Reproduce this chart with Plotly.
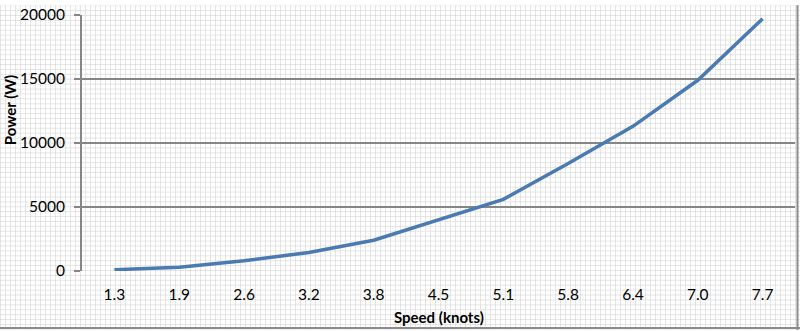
import base64
import plotly.graph_objects as go

speed = ["1.3", "1.9", "2.6", "3.2", "3.8", "4.5", "5.1", "5.8", "6.4", "7.0", "7.7"]
power = [100, 300, 800, 1450, 2400, 4000, 5600, 8400, 11300, 14900, 19700]
y_ticks = [0, 5000, 10000, 15000, 20000]
y_labels = ["0", "5000", "10000", "15000", "20000"]

W, H = 800, 331
ML, MR, MT, MB = 82, 5, 10, 60
PW, PH = W - ML - MR, H - MT - MB

# graph-paper background pattern
svg = f'''<svg xmlns="http://www.w3.org/2000/svg" width="{W}" height="{H}">
<defs><pattern id="p" width="5" height="5" patternUnits="userSpaceOnUse">
<path d="M5 0 L0 0 0 5" fill="none" stroke="#cdcdcd" stroke-width="1"/></pattern></defs>
<rect width="{W}" height="{H}" fill="#ffffff"/>
<rect width="{W}" height="{H}" fill="url(#p)"/></svg>'''
src = "data:image/svg+xml;base64," + base64.b64encode(svg.encode()).decode()

fig = go.Figure()
fig.add_trace(go.Scatter(x=speed, y=power, mode="lines",
                         line=dict(color="#4A7AB2", width=3.5)))

font = dict(family="Lato, Calibri, sans-serif", size=15.5, color="#000000")
tfont = dict(family="Lato, Calibri, sans-serif", size=15, color="#000000")

fig.update_layout(
    width=W, height=H,
    margin=dict(l=ML, r=MR, t=MT, b=MB),
    paper_bgcolor="#ffffff",
    plot_bgcolor="rgba(0,0,0,0)",
    showlegend=False,
    font=font,
    images=[dict(source=src, xref="paper", yref="paper",
                 x=-ML / PW, y=1 + MT / PH, sizex=W / PW, sizey=H / PH,
                 xanchor="left", yanchor="top", sizing="stretch", layer="below")],
    xaxis=dict(type="category", range=[-0.5, len(speed) - 0.5],
               showgrid=False, zeroline=False,
               showline=False, ticks="outside", ticklen=9,
               tickcolor="rgba(0,0,0,0)", tickfont=font),
    yaxis=dict(range=[0, 20000], tickvals=y_ticks, ticktext=y_labels,
               showgrid=True,
               gridcolor="#868686", gridwidth=2, zeroline=False,
               showline=True, linecolor="#868686", linewidth=2,
               ticks="outside", ticklen=6, tickcolor="#868686", tickwidth=2,
               ticklabelstandoff=6, tickfont=font),
    annotations=[
        dict(text="<b>Power (W)</b>", xref="paper", yref="paper",
             x=(10 - ML) / PW, y=(H - MB - 107) / PH, textangle=-90,
             showarrow=False, xanchor="center", yanchor="middle", font=tfont),
        dict(text="<b>Speed (knots)</b>", xref="paper", yref="paper",
             x=0.5, y=(H - MB - 318) / PH, showarrow=False,
             xanchor="center", yanchor="middle", font=tfont),
    ],
    shapes=[
        dict(type="line", xref="paper", yref="paper",
             x0=(797.5 - ML) / PW, x1=(797.5 - ML) / PW,
             y0=(H - MB - 331) / PH, y1=1 + MT / PH,
             line=dict(color="#8c8c8c", width=2)),
        dict(type="line", xref="paper", yref="paper",
             x0=-ML / PW, x1=(W - ML) / PW,
             y0=(H - MB - 329) / PH, y1=(H - MB - 329) / PH,
             line=dict(color="#8c8c8c", width=2)),
    ],
)

fig.write_html("out.html")
